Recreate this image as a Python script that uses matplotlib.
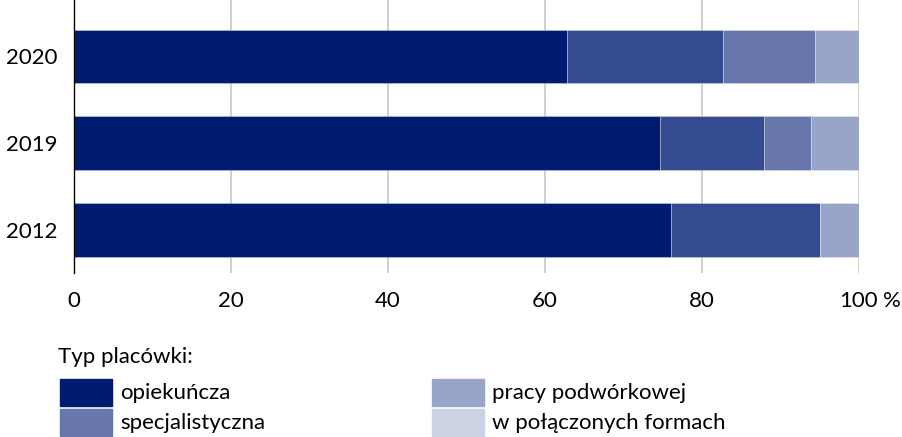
import matplotlib.pyplot as plt
import matplotlib.patches as mp
import numpy as np

plt.rcParams['font.family'] = ['Lato', 'DejaVu Sans']

# data (percent shares per year)
years = ["2012", "2019", "2020"]
seg1 = [76.0, 74.7, 62.8]
seg2 = [19.0, 13.2, 19.9]
seg3 = [0.0, 6.0, 11.7]
seg4 = [5.0, 6.1, 5.6]
bar_colors = ["#001c71", "#344a91", "#6777ab", "#99a5c8"]

legend_title = "Typ placówki:"
legend_names = ["opiekuńcza", "specjalistyczna", "pracy podwórkowej", "w połączonych formach"]
legend_colors = ["#001c71", "#6777ab", "#99a5c8", "#ccd2e3"]

xticks = [0, 20, 40, 60, 80, 100]
FS = 16


def gen():
    W, H = 902, 437
    fig = plt.figure(figsize=(W / 100, H / 100), dpi=100)
    ax = fig.add_axes([74 / W, 1 - 273 / H, (859 - 74) / W, 273 / H])

    y = np.arange(len(years))
    left = np.zeros(len(years))
    for vals, col in zip((seg1, seg2, seg3, seg4), bar_colors):
        ax.barh(y, vals, left=left, height=0.617, color=col,
                edgecolor=(1, 1, 1, 0.35), linewidth=0.6, zorder=3)
        left += np.array(vals)

    ax.set_xlim(0, 100)
    ax.set_ylim(-0.496, 2.651)
    ax.set_yticks(y, years)
    ax.set_xticks(xticks, [str(t) for t in xticks])
    ax.tick_params(axis="y", length=0, pad=12, labelsize=FS)
    ax.tick_params(axis="x", length=0, pad=13, labelsize=FS)
    ax.annotate("%", xy=(100, 0), xycoords=("data", "axes fraction"),
                xytext=(17.3, -13), textcoords="offset points",
                ha="left", va="top", fontsize=FS)

    ax.grid(axis="x", color="#c8c8c8", linewidth=1.2, zorder=0)
    for s in ("top", "right", "bottom"):
        ax.spines[s].set_visible(False)
    ax.spines["left"].set_color("black")
    ax.spines["left"].set_linewidth(1.0)
    ax.spines["left"].set_zorder(4)

    # legend drawn by hand
    fig.text(58 / W, 1 - 357 / H, legend_title, fontsize=FS, va="center", ha="left")
    cols_x = [60, 432]
    rows_y = [379, 409]
    for i, (name, col) in enumerate(zip(legend_names, legend_colors)):
        cx = cols_x[i // 2]
        ry = rows_y[i % 2]
        fig.add_artist(mp.Rectangle((cx / W, 1 - (ry + 27) / H), 52 / W, 27 / H,
                                    transform=fig.transFigure, color=col))
        fig.text((cx + 60) / W, 1 - (ry + 14) / H, name, fontsize=FS,
                 va="center", ha="left")

    plt.savefig("out.png", dpi=100)


gen()
